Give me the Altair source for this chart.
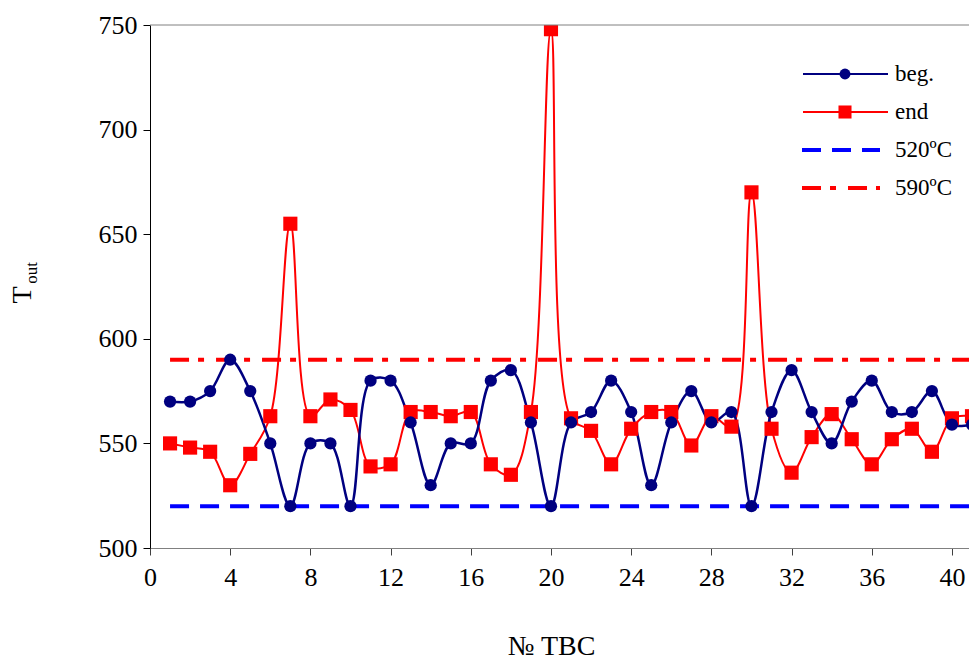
import altair as alt
import pandas as pd

# Fuel assembly numbers and outlet temperatures at the beginning / end of the cycle
tbc = list(range(1, 42))
beg = [570, 570, 575, 590, 575, 550, 520, 550, 550, 520,
       580, 580, 560, 530, 550, 550, 580, 585, 560, 520,
       560, 565, 580, 565, 530, 560, 575, 560, 565, 520,
       565, 585, 565, 550, 570, 580, 565, 565, 575, 559, 559]
end = [550, 548, 546, 530, 545, 563, 655, 563, 571, 566,
       539, 540, 565, 565, 563, 565, 540, 535, 565, 748,
       562, 556, 540, 557, 565, 565, 549, 563, 558, 670,
       557, 536, 553, 564, 552, 540, 552, 557, 546, 562, 563]

# Temperature limits
limit_labels = ["520ºC", "590ºC"]
limit_values = [520, 590]
limit_span = [1, 41]

x_ticks = list(range(0, 41, 4))
y_ticks = list(range(500, 751, 50))

FONT = "Liberation Serif"
W, H = 819, 523
NAVY = "#000080"
RED = "#FF0000"
BLUE = "#0000FF"
DASH = [19, 11]
DASHDOT = [19, 9, 6, 12]

df = pd.DataFrame({"n": tbc, "beg": beg, "end": end})
df_lim = pd.DataFrame({"n": limit_span,
                       "lo": [limit_values[0]] * 2,
                       "hi": [limit_values[1]] * 2})
one = pd.DataFrame({"k": [0]})

xs = alt.Scale(domain=[0, 40.85], nice=False, zero=False)
ys = alt.Scale(domain=[500, 750], nice=False, zero=False)

x_axis = alt.Axis(values=x_ticks, title="№ TBC", grid=False, labelFont=FONT, titleFont=FONT)
y_axis = alt.Axis(values=y_ticks, title=None, grid=False, labelFont=FONT)

X = alt.X("n:Q", scale=xs, axis=x_axis)


def Y(field):
    return alt.Y(field, type="quantitative", scale=ys, axis=y_axis)


# limit lines
lim_lo = alt.Chart(df_lim).mark_line(color=BLUE, strokeWidth=4, strokeDash=DASH,
                                     clip=True).encode(x=X, y=Y("lo"))
lim_hi = alt.Chart(df_lim).mark_line(color=RED, strokeWidth=4, strokeDash=DASHDOT,
                                     clip=True).encode(x=X, y=Y("hi"))

# temperature series
SMOOTH = "catmull-rom"
line_beg = alt.Chart(df).mark_line(color=NAVY, strokeWidth=2.5, interpolate=SMOOTH,
                                   clip=True).encode(x=X, y=Y("beg"))
pts_beg = alt.Chart(df).mark_point(shape="circle", filled=True, size=150, color=NAVY,
                                   opacity=1, clip=True).encode(x=X, y=Y("beg"))
line_end = alt.Chart(df).mark_line(color=RED, strokeWidth=2, interpolate=SMOOTH,
                                   clip=True).encode(x=X, y=Y("end"))
pts_end = alt.Chart(df).mark_point(shape="square", filled=True, size=200, color=RED,
                                   opacity=1, clip=True).encode(x=X, y=Y("end"))

# frame line along the top of the plot area
top_frame = alt.Chart(one).mark_rule(color="#808080", strokeWidth=1).encode(
    x=alt.value(0), x2=alt.value(W), y=alt.value(0))

# y-axis title: T with subscript "out"
t_main = alt.Chart(one).mark_text(text="T", font=FONT, fontSize=28, angle=270,
                                  align="center", baseline="middle", color="black").encode(
    x=alt.value(-127), y=alt.value(270))
t_sub = alt.Chart(one).mark_text(text="out", font=FONT, fontSize=17, angle=270,
                                 align="center", baseline="middle", color="black").encode(
    x=alt.value(-118), y=alt.value(248))

# legend
leg_x0, leg_x1, leg_xm, leg_tx = 653, 738, 695, 745
rows = [49, 87, 125, 163]
legend = []
legend.append(alt.Chart(one).mark_rule(color=NAVY, strokeWidth=2).encode(
    x=alt.value(leg_x0), x2=alt.value(leg_x1), y=alt.value(rows[0])))
legend.append(alt.Chart(one).mark_point(shape="circle", filled=True, size=120, color=NAVY,
                                        opacity=1).encode(x=alt.value(leg_xm), y=alt.value(rows[0])))
legend.append(alt.Chart(one).mark_rule(color=RED, strokeWidth=2).encode(
    x=alt.value(leg_x0), x2=alt.value(leg_x1), y=alt.value(rows[1])))
legend.append(alt.Chart(one).mark_point(shape="square", filled=True, size=170, color=RED,
                                        opacity=1).encode(x=alt.value(leg_xm), y=alt.value(rows[1])))
legend.append(alt.Chart(one).mark_rule(color=BLUE, strokeWidth=4, strokeDash=DASH).encode(
    x=alt.value(leg_x0 - 1), x2=alt.value(leg_x1 - 8), y=alt.value(rows[2])))
legend.append(alt.Chart(one).mark_rule(color=RED, strokeWidth=4, strokeDash=DASHDOT).encode(
    x=alt.value(leg_x0 - 1), x2=alt.value(leg_x1 - 8), y=alt.value(rows[3])))
for label, ry in zip(["beg.", "end"] + limit_labels, rows):
    legend.append(alt.Chart(one).mark_text(text=label, font=FONT, fontSize=23, align="left",
                                           baseline="middle", color="black").encode(
        x=alt.value(leg_tx), y=alt.value(ry)))

chart = alt.layer(
    lim_lo, lim_hi, line_end, line_beg, pts_end, pts_beg, top_frame, t_main, t_sub, *legend
).properties(
    width=W, height=H,
    autosize=alt.AutoSizeParams(type="none"),
    padding={"left": 150, "top": 25, "right": 0, "bottom": 115},
    background="white",
).configure(
    font=FONT
).configure_view(
    stroke=None
).configure_axis(
    labelFont=FONT, labelFontSize=26, labelColor="black", labelFlush=False,
    labelOverlap=False, tickSize=7, titleFont=FONT, titleFontSize=28,
    titleFontWeight="normal", titleColor="black",
).configure_axisX(
    labelPadding=9, tickColor="#404040", domainColor="#808080",
    titleX=401, titleY=98, titleAlign="center", titleBaseline="middle",
).configure_axisY(
    labelPadding=6, tickColor="black", domainColor="black",
)

chart.save("out.html", embed_options={"renderer": "svg", "actions": False})
